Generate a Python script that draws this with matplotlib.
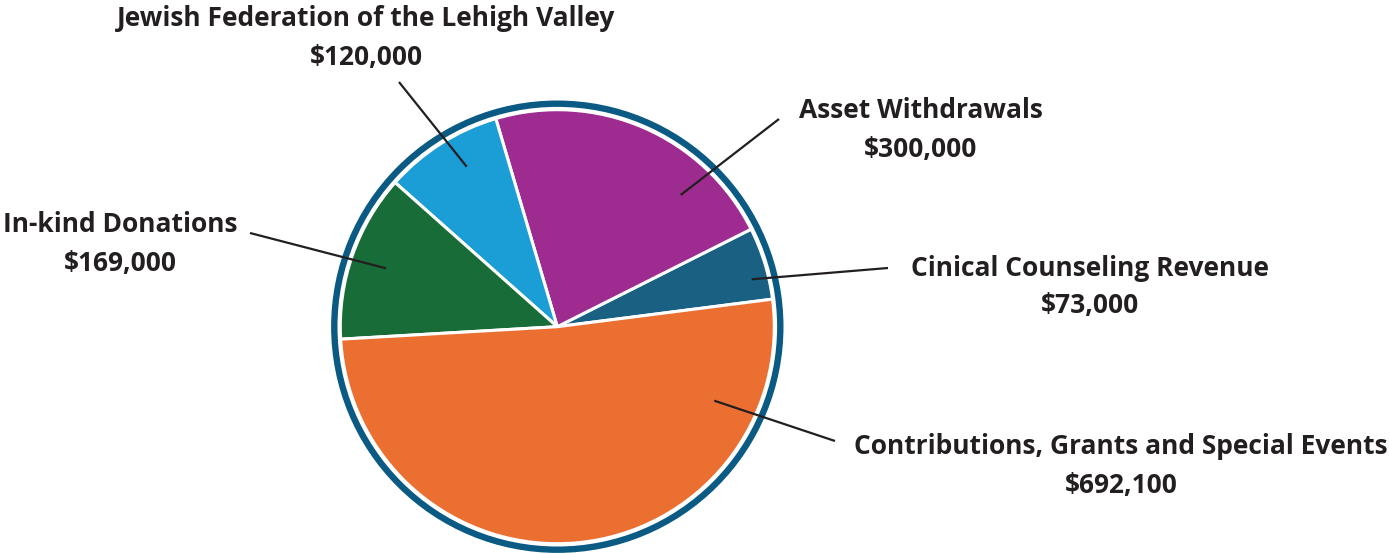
import matplotlib
matplotlib.use("Agg")
import matplotlib.pyplot as plt
from matplotlib.patches import Circle

# Data (counter-clockwise order starting just above 3 o'clock)
categories = ["Cinical Counseling Revenue", "Asset Withdrawals",
              "Jewish Federation of the Lehigh Valley", "In-kind Donations",
              "Contributions, Grants and Special Events"]
values = [73000, 300000, 120000, 169000, 692100]
value_labels = ["$73,000", "$300,000", "$120,000", "$169,000", "$692,100"]
colors = ["#1A6082", "#9E2B8F", "#1B9DD5", "#186C38", "#EA6F31"]

W, H = 1389, 554
fig = plt.figure(figsize=(W / 100, H / 100), dpi=100)
ax = fig.add_axes([0, 0, 1, 1])
ax.set_xlim(0, W)
ax.set_ylim(0, H)
ax.set_aspect("equal")
ax.axis("off")

def P(x, y):
    return (x, H - y)

cx, cy = P(557.3, 326.7)
R = 217
ax.pie(values, colors=colors, startangle=7.3, counterclock=True,
       center=(cx, cy), radius=R, frame=True,
       wedgeprops=dict(edgecolor="white", linewidth=2.2))
ax.set_xlim(0, W)
ax.set_ylim(0, H)
ax.axis("off")
ax.add_patch(Circle((cx, cy), 223, fill=False, edgecolor="#0A5A84", linewidth=4.6))

# leader lines (inner point, outer point) in pixel coordinates
leaders = [((751.7, 279.3), (888, 268)),
           ((680.7, 195), (779, 119)),
           ((466.7, 166.7), (399, 82)),
           ((386, 268.3), (250, 233)),
           ((714.3, 400.7), (835, 441))]
label_pos = [(1090, 268, 306), (921, 110, 150), (366, 18, 57),
             (120, 225, 263), (1121, 446, 485)]

for (a, b) in leaders:
    (x0, y0), (x1, y1) = P(*a), P(*b)
    ax.plot([x0, x1], [y0, y1], color="#231F20", linewidth=1.6, solid_capstyle="butt")

font = dict(family=["Open Sans", "DejaVu Sans"], fontweight="bold", fontsize=19, color="#231F20",
            ha="center", va="center")
for cat, vl, (x, y1, y2) in zip(categories, value_labels, label_pos):
    ax.text(*P(x, y1), cat, **font)
    ax.text(*P(x, y2), vl, **font)

fig.savefig("out.png", dpi=100, facecolor="white")
